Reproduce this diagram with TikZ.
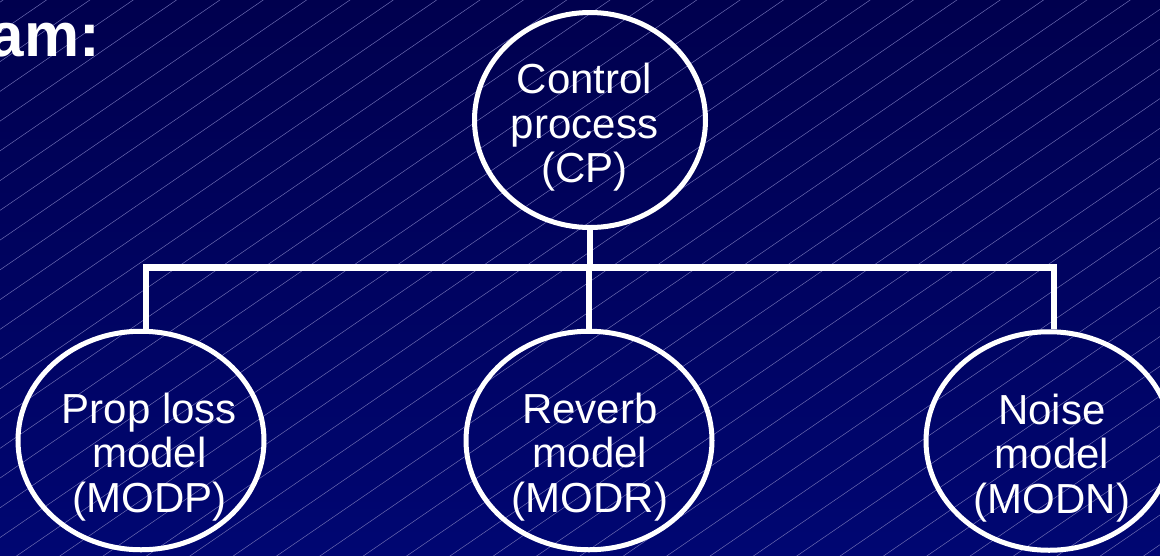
\documentclass[tikz,border=0pt]{standalone}
\usepackage{fontspec}
\setmainfont{Liberation Sans}
\usetikzlibrary{shapes.geometric}
\definecolor{slidetop}{RGB}{0,0,78}
\definecolor{slidebottom}{RGB}{0,6,114}
\definecolor{hatchline}{RGB}{108,108,178}
\tikzset{
  bubble/.style={draw=white, line width=5pt, ellipse, inner sep=0pt},
  caption/.style={text=white, align=center, inner sep=0pt,
    font=\fontsize{42}{44.5}\selectfont},
  link/.style={draw=white, line width=6.5pt, line join=miter},
  hatch/.style={draw=hatchline, line width=0.5pt},
}
\begin{document}
\begin{tikzpicture}[x=1pt,y=-1pt]
\useasboundingbox (0,0) rectangle (1160,555);
% slide background: dark navy gradient with fine diagonal rules
\shade[top color=slidetop, bottom color=slidebottom] (0,0) rectangle (1160,555);
\foreach \k in {0,...,47}
  \draw[hatch] ({3.1+43.35*\k+14.6},-10) -- ++(-838,575);

% heading, running in from the left edge
\node[text=white, font=\fontsize{62}{70}\selectfont\bfseries,
      anchor=base east, inner sep=0pt] (heading) at (100,56.7) {am:};

% processes
\node[bubble, minimum width=231pt, minimum height=215pt] (cp) at (590,120) {};
\node[bubble, minimum width=246pt, minimum height=218.5pt] (modp) at (141,440.5) {};
\node[bubble, minimum width=246pt, minimum height=218.5pt] (modr) at (589,440.5) {};
\node[bubble, minimum width=246pt, minimum height=218.5pt] (modn) at (1049,441) {};

\node[caption] (cp-text)   at ([shift={(-5.5,7.5)}]cp.center)   {Control\\process\\(CP)};
\node[caption] (modp-text) at ([shift={(8.5,16.5)}]modp.center) {Prop loss\\model\\(MODP)};
\node[caption] (modr-text) at ([shift={(1,16.5)}]modr.center)   {Reverb\\model\\(MODR)};
\node[caption] (modn-text) at ([shift={(3,17)}]modn.center)     {Noise\\model\\(MODN)};

% tree connectors
\coordinate (barL) at (146,267.5);
\coordinate (barR) at (1054,267.5);
\draw[link] (barL |- modp.north) -- (barL) -- (barR) -- (barR |- modn.north);
\draw[link] (cp.south) -- (cp.south |- barL);
\draw[link] (modr.north) -- (modr.north |- barL);
\end{tikzpicture}
\end{document}
